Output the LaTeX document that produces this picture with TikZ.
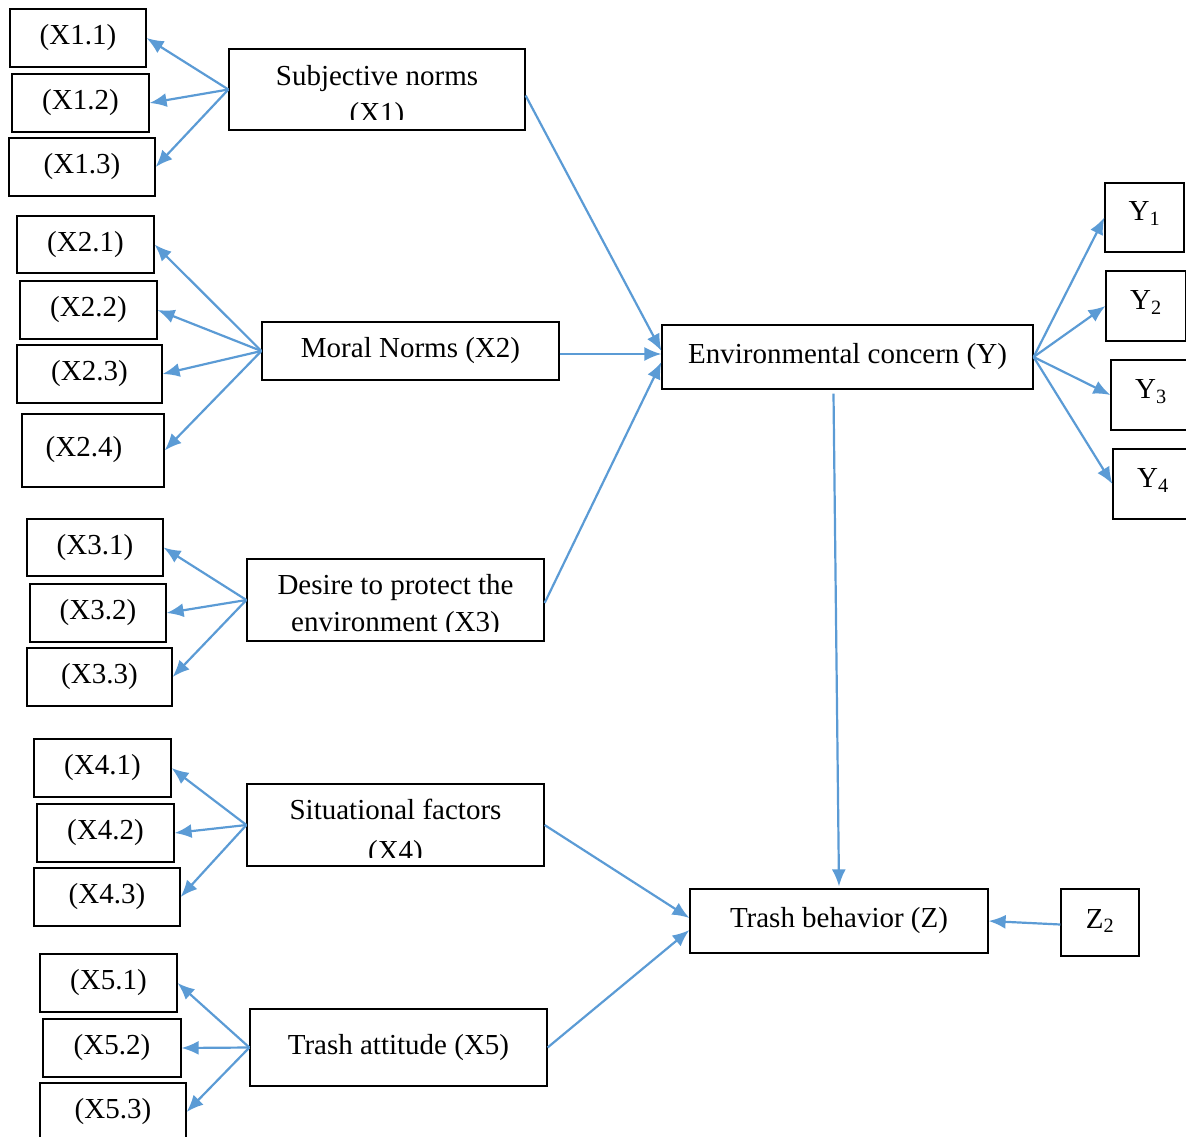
\documentclass[tikz,border=0pt]{standalone}
\usepackage{fontspec}
\setmainfont{Liberation Serif}
\usepackage{tikz}
\usetikzlibrary{positioning, arrows.meta}

\definecolor{arrowblue}{RGB}{91,155,213}

\begin{document}
\begin{tikzpicture}[x=1pt, y=-1pt, font=\fontsize{29}{35}\selectfont]
      \tikzstyle{box} = [rectangle, draw=black, line width=1.2pt, inner sep=0pt, text centered, align=center]
      \tikzstyle{cuttext} = [draw=none, fill=none, inner sep=0pt, align=center]
      \tikzstyle{arrow} = [draw=arrowblue, line width=2.2pt, -{Latex[length=17pt,width=14pt]}]

      \useasboundingbox (0,0) rectangle (1186,1137);

      % indicators of X1
      \node (x11) [box, minimum width=136, minimum height=58] at (78,38) {(X1.1)};
      \node (x12) [box, minimum width=137, minimum height=58] at (80.5,103) {(X1.2)};
      \node (x13) [box, minimum width=146, minimum height=58] at (82,167) {(X1.3)};
      \node (sub) [box, minimum width=296, minimum height=81, path picture={
          \clip ([yshift=10pt]path picture bounding box.south west) rectangle (path picture bounding box.north east);
          \node (subtext) [cuttext, yshift=-8pt] at (path picture bounding box.center) {Subjective norms\\[2pt](X1)};
        }] at (377,89.5) {};

      \draw [arrow] (sub.west) -- (x11.east);
      \draw [arrow] (sub.west) -- (x12.east);
      \draw [arrow] (sub.west) -- (x13.east);

      % indicators of X2
      \node (x21) [box, minimum width=137, minimum height=57] at (85.5,244.5) {(X2.1)};
      \node (x22) [box, minimum width=137, minimum height=58] at (88.5,310) {(X2.2)};
      \node (x23) [box, minimum width=145, minimum height=58] at (89.5,374) {(X2.3)};
      \node (x24) [box, minimum width=142, minimum height=73] at (93,450.5) {\raisebox{8pt}{(X2.4)}\hspace{18pt}};
      \node (moral) [box, minimum width=297, minimum height=58] at (410.5,351) {Moral Norms (X2)};

      \draw [arrow] (moral.west) -- (x21.east);
      \draw [arrow] (moral.west) -- (x22.east);
      \draw [arrow] (moral.west) -- (x23.east);
      \draw [arrow] (moral.west) -- (x24.east);

      % indicators of X3
      \node (x31) [box, minimum width=136, minimum height=57] at (95,547.5) {(X3.1)};
      \node (x32) [box, minimum width=136, minimum height=58] at (98,613) {(X3.2)};
      \node (x33) [box, minimum width=145, minimum height=58] at (99.5,677) {(X3.3)};
      \node (desire) [box, minimum width=297, minimum height=82, path picture={
          \clip ([yshift=10pt]path picture bounding box.south west) rectangle (path picture bounding box.north east);
          \node (desiretext) [cuttext, yshift=-6pt] at (path picture bounding box.center) {Desire to protect the\\[2pt]environment (X3)};
        }] at (395.5,600) {};

      \draw [arrow] (desire.west) -- (x31.east);
      \draw [arrow] (desire.west) -- (x32.east);
      \draw [arrow] (desire.west) -- (x33.east);

      % indicators of X4
      \node (x41) [box, minimum width=137, minimum height=58] at (102.5,768) {(X4.1)};
      \node (x42) [box, minimum width=137, minimum height=58] at (105.5,833) {(X4.2)};
      \node (x43) [box, minimum width=146, minimum height=58] at (107,897) {(X4.3)};
      \node (sit) [box, minimum width=297, minimum height=82, path picture={
          \clip ([yshift=9pt]path picture bounding box.south west) rectangle (path picture bounding box.north east);
          \node (sittext) [cuttext, yshift=-8pt] at (path picture bounding box.center) {Situational factors\\[6pt](X4)};
        }] at (395.5,825) {};

      \draw [arrow] (sit.west) -- (x41.east);
      \draw [arrow] (sit.west) -- (x42.east);
      \draw [arrow] (sit.west) -- (x43.east);

      % indicators of X5
      \node (x51) [box, minimum width=137, minimum height=58] at (108.5,983) {(X5.1)};
      \node (x52) [box, minimum width=138, minimum height=58] at (112,1048) {(X5.2)};
      \node (x53) [box, minimum width=146, minimum height=58] at (113,1112) {(X5.3)};
      \node (att) [box, minimum width=297, minimum height=77] at (398.5,1047.5) {Trash attitude (X5)};

      \draw [arrow] (att.west) -- (x51.east);
      \draw [arrow] (att.west) -- (x52.east);
      \draw [arrow] (att.west) -- (x53.east);

      % environmental concern and its indicators
      \node (env) [box, minimum width=371, minimum height=64] at (847.5,357) {Environmental concern (Y)};
      \node (y1) [box, minimum width=79, minimum height=69] at (1144.5,217.5) {\raisebox{12pt}{Y\textsubscript{1}}};
      \node (y2) [box, minimum width=80, minimum height=70] at (1146,306) {\raisebox{12pt}{Y\textsubscript{2}}};
      \node (y3) [box, minimum width=80, minimum height=70] at (1151,395) {\raisebox{12pt}{Y\textsubscript{3}}};
      \node (y4) [box, minimum width=80, minimum height=70] at (1153,484) {\raisebox{12pt}{Y\textsubscript{4}}};

      \draw [arrow] ([yshift=-6pt]sub.east) -- ([yshift=6pt]env.west);
      \draw [arrow] ([yshift=-3pt]moral.east) -- ([yshift=3pt]env.west);
      \draw [arrow] ([yshift=-3pt]desire.east) -- ([yshift=-5pt]env.west);

      \draw [arrow] (env.east) -- (y1.west);
      \draw [arrow] (env.east) -- (y2.west);
      \draw [arrow] (env.east) -- (y3.west);
      \draw [arrow] (env.east) -- (y4.west);

      % trash behavior
      \node (beh) [box, minimum width=298, minimum height=64] at (839,921) {Trash behavior (Z)};
      \node (z2) [box, minimum width=78, minimum height=67] at (1100,922.5) {\raisebox{8pt}{Z\textsubscript{2}}};

      \draw [arrow] ([xshift=-14pt,yshift=-4pt]env.south) -- ([yshift=2pt]beh.north);
      \draw [arrow] (sit.east) -- ([yshift=3pt]beh.west);
      \draw [arrow] (att.east) -- ([yshift=-9pt]beh.west);
      \draw [arrow] ([yshift=-2pt]z2.west) -- (beh.east);

\end{tikzpicture}
\end{document}
